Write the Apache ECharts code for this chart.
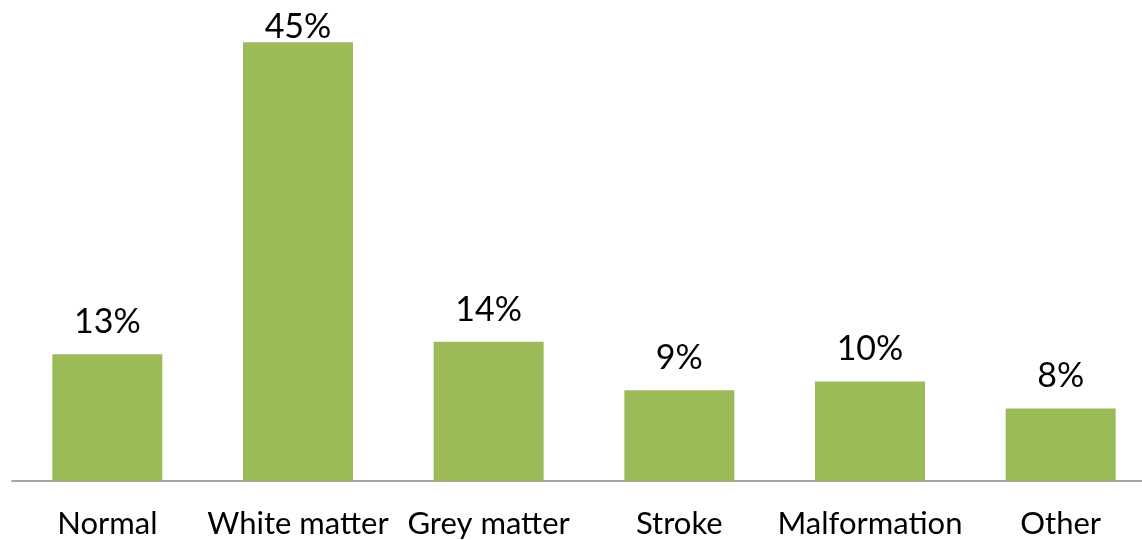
<!DOCTYPE html>
<html><head><meta charset="utf-8">
<script src="https://cdn.jsdelivr.net/npm/echarts@6/dist/echarts.min.js"></script>
<style>html,body{margin:0;padding:0;background:#fff}#c{width:1142px;height:540px}</style>
</head><body><div id="c"></div>
<script>
const categories = ["Normal", "White matter", "Grey matter", "Stroke", "Malformation", "Other"];
const values = [13.1, 45.4, 14.4, 9.4, 10.3, 7.5];

const chart = echarts.init(document.getElementById('c'), null, {renderer: 'canvas'});
const font = 'Lato, "Open Sans", sans-serif';
const seriesData = values.map((v, i) => i === 1 ? {value: v, label: {distance: -2}} : v);
chart.setOption({
  animation: false,
  grid: {left: 12, top: 17, bottom: 59, width: 1144, outerBoundsMode: 'none', containLabel: false},
  xAxis: {
    type: 'category', data: categories,
    axisLine: {lineStyle: {color: '#a6a6a6', width: 2}},
    axisTick: {show: false},
    axisLabel: {color: '#000', fontSize: 31, fontFamily: font, margin: 27, interval: 0}
  },
  yAxis: {type: 'value', min: 0, max: 48, show: false, splitLine: {show: false}},
  series: [{
    type: 'bar', data: seriesData, barWidth: '57.7%',
    itemStyle: {color: '#9bbb59'},
    label: {show: true, position: 'top', distance: 15, color: '#000', fontSize: 34, fontFamily: font,
      formatter: p => Math.round(p.value) + '%'}
  }]
});
</script></body></html>
